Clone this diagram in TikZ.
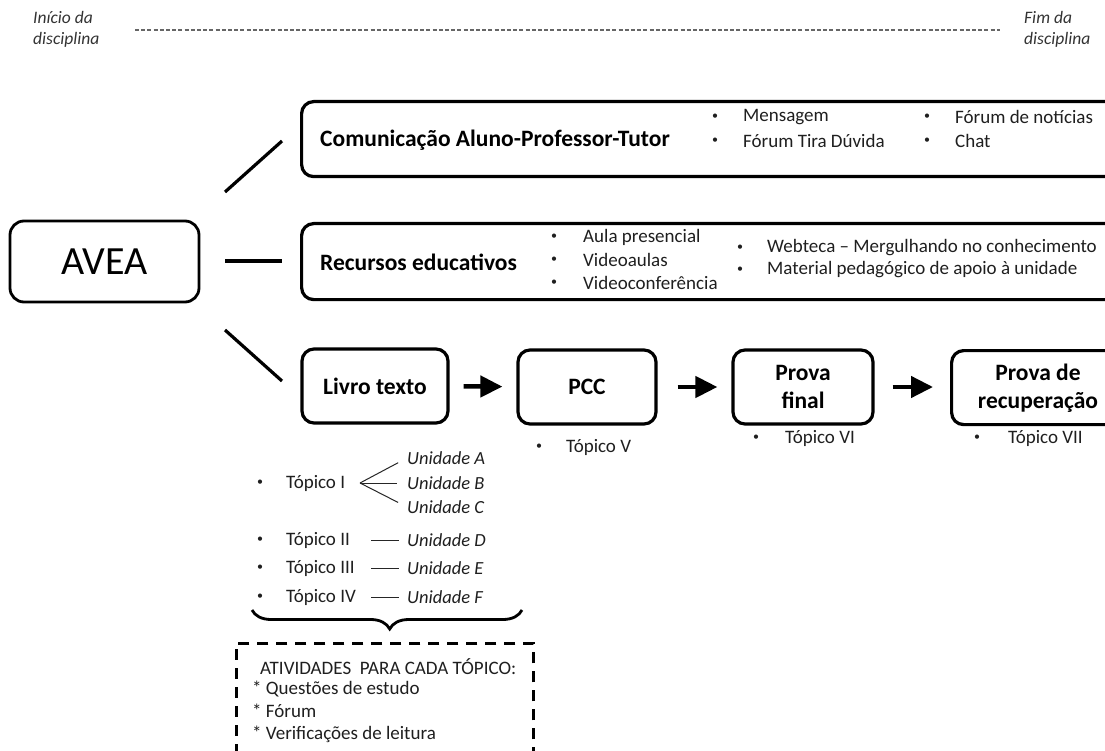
\documentclass[tikz,border=0pt]{standalone}
\usepackage{fontspec}
\setmainfont{Carlito}
\usetikzlibrary{arrows.meta,decorations.pathreplacing,calc}
\begin{document}
\begin{tikzpicture}[x=1pt,y=-1pt,
  box/.style={draw,line width=3.2pt,rounded corners=12pt,inner sep=0pt},
  ttl/.style={font=\fontsize{23.5}{26}\selectfont\bfseries,inner sep=0pt,align=center},
  itm/.style={font=\fontsize{19}{20}\selectfont,text=black!88,anchor=west,inner sep=0pt},
  bul/.style={font=\fontsize{12}{14}\selectfont,text=black!88,inner sep=0pt},
  uni/.style={font=\fontsize{18.5}{20}\selectfont\itshape,text=black!88,anchor=west,inner sep=0pt},
  link/.style={line width=3.2pt},
  flow/.style={line width=4.5pt,-{Triangle[length=22pt,width=21pt]}},
  fine/.style={line width=1pt,black!85},
  lbl/.style={font=\fontsize{17.5}{19}\selectfont\itshape,text=black!80,inner sep=0pt,anchor=west}
]
\clip (0,0) rectangle (1105,751);
\fill[white] (0,0) rectangle (1105,751);

% timeline
\node[lbl] (ini1) at (33,17) {Início da};
\node[lbl] (ini2) at (33,40) {disciplina};
\node[lbl] (fim1) at (1024,17) {Fim da};
\node[lbl] (fim2) at (1024,40) {disciplina};
\coordinate (tl1) at (135,30);
\coordinate (tl2) at (1000,30);
\draw[black!60,line width=1.5pt,dash pattern=on 4pt off 2.2pt] (tl1) -- (tl2);

% AVEA
\node[box,line width=2.8pt,rounded corners=14pt,minimum width=189pt,minimum height=81pt,
      font=\fontsize{40}{44}\selectfont] (avea) at (104.5,261.5) {AVEA};

% top-level boxes
\node[box,minimum width=840pt,minimum height=75pt,anchor=north west] (com) at (300,100) {};
\node[ttl,anchor=west] (comt) at (320,140) {Comunicação Aluno-Professor-Tutor};
\node[bul] (cb1) at (715,117) {•};
\node[itm] (c1) at (743,117) {Mensagem};
\node[bul] (cb2) at (715,141) {•};
\node[itm] (c2) at (743,141) {Fórum Tira Dúvida};
\node[bul] (cb3) at (927,117) {•};
\node[itm] (c3) at (955,117) {Fórum de notícias};
\node[bul] (cb4) at (927,141) {•};
\node[itm] (c4) at (955,141) {Chat};

\node[box,minimum width=840pt,minimum height=76pt,anchor=north west] (rec) at (300,222) {};
\node[ttl,anchor=west] (rect) at (320,262) {Recursos educativos};
\node[bul] (rb1) at (554,237) {•};
\node[itm] (r1) at (583,237) {Aula presencial};
\node[bul] (rb2) at (554,260) {•};
\node[itm] (r2) at (583,260) {Videoaulas};
\node[bul] (rb3) at (554,283) {•};
\node[itm] (r3) at (583,283) {Videoconferência};
\node[bul] (rb4) at (740,248) {•};
\node[itm] (r4) at (767,248) {Webteca – Mergulhando no conhecimento};
\node[bul] (rb5) at (740,270) {•};
\node[itm] (r5) at (767,270) {Material pedagógico de apoio à unidade};

% AVEA links
\coordinate (l1a) at (225,192); \coordinate (l1b) at (282,141);
\coordinate (l2a) at (225,261); \coordinate (l2b) at (282,261);
\coordinate (l3a) at (225,330); \coordinate (l3b) at (282,381);
\draw[link] (l1a) -- (l1b);
\draw[link] (l2a) -- (l2b);
\draw[link] (l3a) -- (l3b);

% flow boxes
\node[box,ttl,minimum width=146pt,minimum height=74pt] (livro) at (375,386) {Livro texto};
\node[box,ttl,minimum width=138pt,minimum height=74pt] (pcc) at (587,387) {PCC};
\node[box,ttl,minimum width=140pt,minimum height=74pt] (final) at (803,387) {Prova\\[2pt]final};
\node[box,minimum width=200pt,minimum height=74pt,anchor=north west] (recup) at (950,349) {};
\node[ttl] (recupt) at (1038,388) {Prova de\\[2pt]recuperação};

\draw[flow,shorten <=14pt,shorten >=14pt] (livro) -- (pcc);
\draw[flow,shorten <=20pt,shorten >=14pt] (pcc) -- (final);
\draw[flow,shorten <=18pt,shorten >=17pt] (final.east) -- (recup.west |- final.east);

\node[bul] (pb1) at (539,447) {•};
\node[itm] (p1) at (566,447) {Tópico V};
\node[bul] (pb2) at (756,438) {•};
\node[itm] (p2) at (785,438) {Tópico VI};
\node[bul] (pb3) at (977,438) {•};
\node[itm] (p3) at (1008,438) {Tópico VII};

% topics
\node[bul] (tb1) at (260,483) {•};
\node[itm] (t1) at (286,483) {Tópico I};
\node[uni] (ua) at (407,458) {Unidade A};
\node[uni] (ub) at (407,483) {Unidade B};
\node[uni] (uc) at (407,507) {Unidade C};
\coordinate (fork) at (360,483);
\draw[fine,shorten >=10pt] (fork) -- (ua.west);
\draw[fine,shorten >=10pt] (fork) -- (ub.west);
\draw[fine,shorten >=10pt] (fork) -- (uc.west);

\node[bul] (tb2) at (260,540) {•};
\node[itm] (t2) at (286,540) {Tópico II};
\node[uni] (ud) at (407,540) {Unidade D};
\node[bul] (tb3) at (260,568) {•};
\node[itm] (t3) at (286,568) {Tópico III};
\node[uni] (ue) at (407,568) {Unidade E};
\node[bul] (tb4) at (260,597) {•};
\node[itm] (t4) at (286,597) {Tópico IV};
\node[uni] (uf) at (407,597) {Unidade F};
\foreach \u in {ud,ue,uf}
  \draw[fine] ([xshift=-36pt]\u.west) -- ([xshift=-8pt]\u.west);

% brace
\coordinate (br1) at (522,610);
\coordinate (br2) at (252,610);
\draw[line width=2.8pt,decoration={brace,amplitude=19pt,aspect=0.49},decorate] (br1) -- (br2);

% activities box
\node[draw,line width=2.6pt,dash pattern=on 11pt off 8pt,minimum width=297pt,minimum height=160pt,
      anchor=north west,inner sep=0pt] (ativ) at (235,642) {};
\node[itm] (a0) at (260,667) {ATIVIDADES\ \ PARA CADA TÓPICO:};
\node[itm] (a1) at (252,689) {* Questões de estudo};
\node[itm] (a2) at (252,711) {* Fórum};
\node[itm] (a3) at (252,734) {* Verificações de leitura};
\end{tikzpicture}
\end{document}
